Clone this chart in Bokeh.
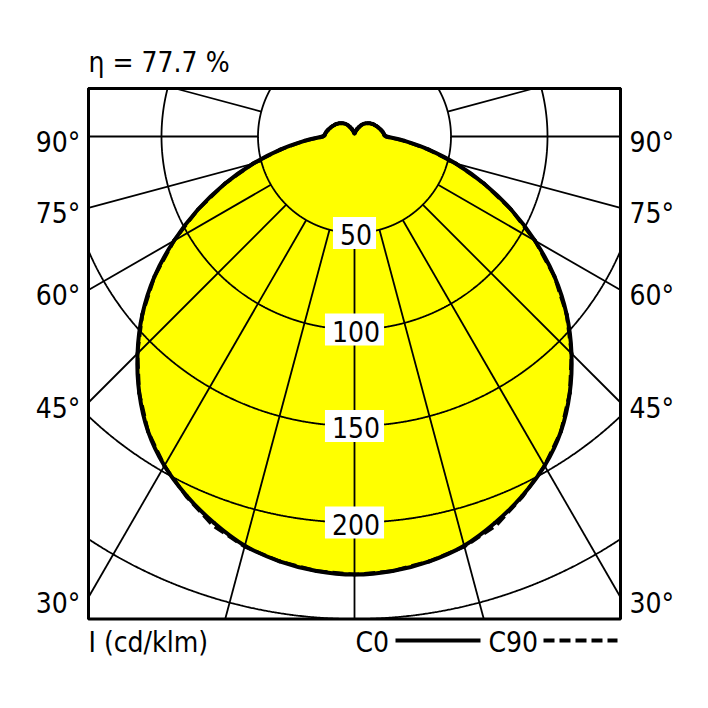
import numpy as np
from bokeh.plotting import figure
from bokeh.models import Label, Range1d
from bokeh.embed import file_html
from bokeh.resources import INLINE

# ---------------- data ----------------
gamma_deg = [0, 5, 10, 15, 20, 25, 30, 35, 40, 45, 50, 55, 60, 65, 70, 75, 80, 85, 90,
             95, 100, 105, 110, 115, 120, 125, 130, 135, 140, 145, 150, 155, 160, 165, 170, 175, 180]
c0_values = [227, 226, 223.5, 219.5, 213, 205.5, 197, 186.5, 173.5, 159, 143.5, 126.5, 108, 89.5, 71.5, 54.5, 39, 26, 16.5,
             15.3, 14.7, 14, 13.3, 12.6, 12, 11.3, 10.6, 9.8, 8.9, 7.9, 6.7, 5.3, 4.2, 3.2, 2.4, 1.8, 1.6]
c90_values = [227, 226, 223.5, 220, 214.5, 206, 197, 186.5, 173.5, 159, 143.5, 126.5, 108, 89.5, 71.5, 54.5, 39, 26, 16.5,
              15.3, 14.7, 14, 13.3, 12.6, 12, 11.3, 10.6, 9.8, 8.9, 7.9, 6.7, 5.3, 4.2, 3.2, 2.4, 1.8, 1.6]
grid_radii = [50, 100, 150, 200, 250]
radial_tick_values = [50, 100, 150, 200]
grid_angles = [0, 15, 30, 45, 60, 75, 90, 105]
angle_tick_values = [90, 75, 60, 45, 30]
title_text = "η = 77.7 %"
unit_text = "I (cd/klm)"
series_names = ["C0", "C90"]

# ---------------- layout ----------------
S = 1.93                      # px per cd/klm
OX, OY = 354, 136             # pixel position of the polar origin
BOX_X = 266 / S               # half width of the frame box
BOX_TOP = 48 / S
BOX_BOTTOM = -250.0
FONT = "DejaVu Sans Condensed, Liberation Sans, sans-serif"
FS = "28px"
W = 708

p = figure(width=W, height=W,
           x_range=Range1d(-OX / S, (W - OX) / S),
           y_range=Range1d(-(W - OY) / S, OY / S),
           x_axis_type=None, y_axis_type=None,
           toolbar_location=None, output_backend="svg",
           min_border=0)
p.outline_line_color = None
p.grid.visible = False
p.background_fill_color = "white"
p.border_fill_color = "white"


def px_x(px):
    return (px - OX) / S


def px_y(py):
    return (OY - py) / S


def polar_xy(angles_deg, values):
    a = np.radians(np.asarray(angles_deg, dtype=float))
    r = np.asarray(values, dtype=float)
    full_a = np.concatenate([-a[::-1], a[1:]])
    full_r = np.concatenate([r[::-1], r[1:]])
    return full_r * np.sin(full_a), -full_r * np.cos(full_a)


def smooth_outline(x, y):
    """Catmull-Rom segments through the measured points, as Bezier control points."""
    px_, py_ = np.asarray(x[:-1]), np.asarray(y[:-1])   # closed loop, drop duplicate end
    n = len(px_)
    i = np.arange(n)
    im1, ip1, ip2 = (i - 1) % n, (i + 1) % n, (i + 2) % n
    return dict(x0=px_, y0=py_, x1=px_[ip1], y1=py_[ip1],
                cx0=px_ + (px_[ip1] - px_[im1]) / 6, cy0=py_ + (py_[ip1] - py_[im1]) / 6,
                cx1=px_[ip1] - (px_[ip2] - px_) / 6, cy1=py_[ip1] - (py_[ip2] - py_) / 6)


x0, y0 = polar_xy(gamma_deg, c0_values)
x90, y90 = polar_xy(gamma_deg, c90_values)

# yellow fill
p.patch(x0, y0, fill_color="#FFFF00", line_color=None)

# grid circles (clipped to the box)
phi = np.linspace(0, 2 * np.pi, 2881)
cx, cy = [], []
for r in grid_radii:
    cx.append(np.clip(r * np.cos(phi), -BOX_X, BOX_X))
    cy.append(np.clip(r * np.sin(phi), BOX_BOTTOM, BOX_TOP))
p.multi_line(cx, cy, line_color="black", line_width=1.8)

# radial lines from r=50 to box edge
lx, ly = [], []
for a in grid_angles:
    for sgn in ([1] if a == 0 else [-1, 1]):
        t = np.radians(a * sgn)
        dx, dy = np.sin(t), -np.cos(t)
        cands = []
        if abs(dx) > 1e-9:
            cands.append(BOX_X / abs(dx))
        if dy < -1e-9:
            cands.append(BOX_BOTTOM / dy)
        elif dy > 1e-9:
            cands.append(BOX_TOP / dy)
        r_end = min(cands)
        r_start = grid_radii[0]
        lx.append([r_start * dx, r_end * dx])
        ly.append([r_start * dy, r_end * dy])
p.multi_line(lx, ly, line_color="black", line_width=1.8)

# curves
p.line(x90, y90, line_color="black", line_width=3.5, line_dash="11 5")
p.bezier(**smooth_outline(x0, y0), line_color="black", line_width=4, line_cap="round")

# box
p.quad(left=-BOX_X, right=BOX_X, top=BOX_TOP, bottom=BOX_BOTTOM,
       fill_color=None, line_color="black", line_width=3)

# radial value labels
for v in radial_tick_values:
    p.add_layout(Label(x=0, y=-v, text=str(v), text_font=FONT, text_font_size=FS, text_color="black",
                       text_align="center", text_baseline="middle",
                       background_fill_color="white", padding=(7, 4, 7, 4)))

# angle labels
for a in angle_tick_values:
    ye = 0.0 if a == 90 else -BOX_X / np.tan(np.radians(a))
    yl = ye - 3.0
    p.add_layout(Label(x=-BOX_X - 4.2, y=yl, text=f"{a}°", text_font=FONT, text_font_size=FS,
                       text_color="black", text_align="right", text_baseline="middle"))
    p.add_layout(Label(x=BOX_X + 4.7, y=yl, text=f"{a}°", text_font=FONT, text_font_size=FS,
                       text_color="black", text_align="left", text_baseline="middle"))

# title and bottom texts
p.add_layout(Label(x=-BOX_X, y=px_y(62), text=title_text, text_font=FONT, text_font_size=FS,
                   text_color="black", text_align="left", text_baseline="middle"))
leg_y = px_y(642)
p.add_layout(Label(x=-BOX_X, y=leg_y, text=unit_text, text_font=FONT, text_font_size=FS,
                   text_color="black", text_align="left", text_baseline="middle"))
p.add_layout(Label(x=px_x(355), y=leg_y, text=series_names[0], text_font=FONT, text_font_size=FS,
                   text_color="black", text_align="left", text_baseline="middle"))
p.add_layout(Label(x=px_x(488), y=leg_y, text=series_names[1], text_font=FONT, text_font_size=FS,
                   text_color="black", text_align="left", text_baseline="middle"))
line_y = px_y(640)
p.line([px_x(395), px_x(480)], [line_y, line_y], line_color="black", line_width=4)
p.line([px_x(543), px_x(617)], [line_y, line_y], line_color="black", line_width=4, line_dash="11 5")

open("out.html", "w").write(file_html(p, INLINE))
